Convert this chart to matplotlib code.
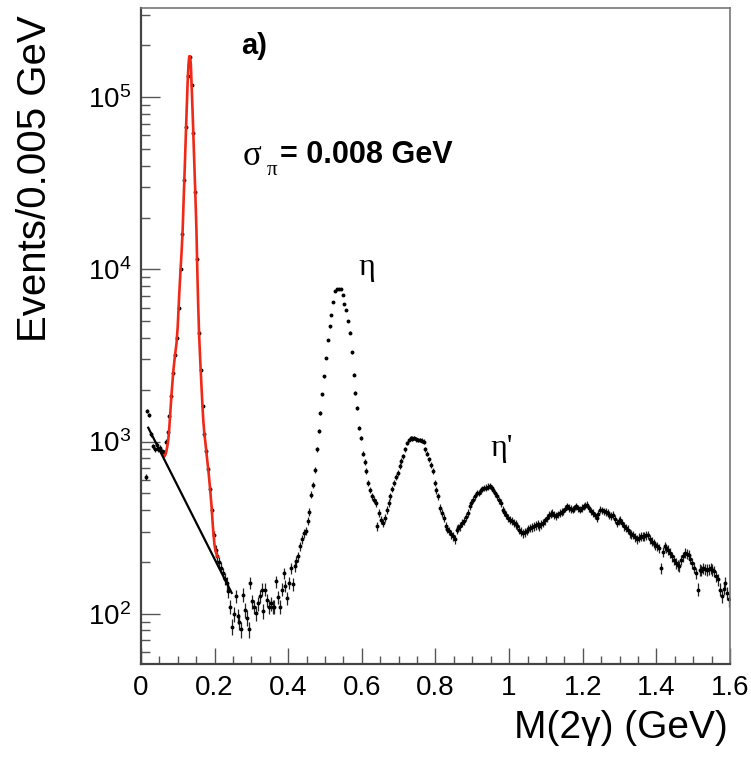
import numpy as np
import matplotlib
matplotlib.use('Agg')
import matplotlib.pyplot as plt
from matplotlib.ticker import LogLocator, NullFormatter, FixedLocator, FixedFormatter, MultipleLocator

plt.rcParams['font.family'] = ['Liberation Sans', 'DejaVu Sans']
plt.rcParams['mathtext.default'] = 'regular'

# histogram: events per 0.005 GeV bin, first filled bin centred at 0.0125 GeV
bin_width = 0.005
first_bin_center = 0.0125
counts = [
    620, 1500, 1420, 1100, 940, 900, 960, 900, 920, 880,
    865, 1000, 1130, 1400, 1850, 2500, 3200, 4000, 6000, 10000,
    16000, 33000, 67000, 133000, 172000, 118000, 62000, 28000, 11500, 4300,
    2600, 1600, 1100, 880, 690, 530, 400, 285, 235, 215,
    200, 185, 172, 160, 150, 135, 110, 84, 100, 126,
    97, 90, 81, 129, 105, 95, 81, 151, 118, 110,
    101, 115, 126, 138, 103, 138, 120, 110, 115, 110,
    110, 154, 125, 110, 138, 172, 145, 123, 151, 184,
    148, 188, 201, 215, 246, 270, 294, 302, 345, 390,
    491, 562, 687, 900, 1150, 1470, 1880, 2390, 3060, 3900,
    4660, 5440, 6500, 7470, 7650, 7710, 7650, 7110, 6320, 5800,
    5000, 4300, 3300, 2450, 1920, 1570, 1200, 1050, 850, 760,
    672, 575, 525, 481, 460, 440, 322, 385, 352, 336,
    360, 400, 440, 481, 530, 575, 620, 658, 720, 770,
    820, 900, 980, 1020, 1050, 1040, 1050, 1030, 1020, 1020,
    1010, 1000, 900, 850, 790, 730, 672, 575, 520, 481,
    411, 385, 360, 322, 310, 302, 290, 282, 270, 308,
    315, 322, 335, 345, 365, 385, 420, 440, 460, 480,
    502, 502, 520, 532, 536, 540, 548, 550, 538, 525,
    500, 481, 455, 440, 402, 390, 376, 362, 352, 345,
    336, 330, 325, 308, 300, 294, 298, 302, 310, 315,
    318, 322, 326, 330, 322, 330, 336, 348, 360, 376,
    380, 385, 376, 368, 378, 385, 390, 393, 408, 420,
    411, 405, 402, 410, 420, 410, 402, 412, 420, 425,
    430, 410, 393, 385, 372, 360, 380, 402, 398, 393,
    390, 385, 375, 368, 376, 355, 336, 345, 352, 336,
    322, 315, 308, 294, 290, 287, 278, 270, 276, 282,
    280, 282, 285, 287, 270, 262, 257, 250, 246, 240,
    184, 228, 246, 240, 235, 225, 215, 205, 197, 192,
    188, 206, 215, 225, 222, 220, 208, 197, 185, 172,
    138, 180, 178, 184, 182, 180, 182, 184, 180, 176,
    165, 158, 138, 126, 140, 151, 132, 121,
]
mass = first_bin_center + bin_width * np.arange(len(counts))
errors = np.sqrt(counts)

# pi0 fit curve (signal + background)
fit_mass = [0.0611, 0.0633, 0.0660, 0.0688, 0.0715, 0.0742, 0.0766, 0.0788, 0.0810, 0.0834,
            0.0878, 0.0924, 0.0965, 0.0997, 0.1041, 0.1073, 0.1106, 0.1133, 0.1160, 0.1188,
            0.1215, 0.1242, 0.1269, 0.1291, 0.1313, 0.1334, 0.1356, 0.1378, 0.1405, 0.1432,
            0.1459, 0.1486, 0.1508, 0.1533, 0.1554, 0.1579, 0.1609, 0.1639, 0.1666, 0.1693,
            0.1720, 0.1753, 0.1793, 0.1834, 0.1875, 0.1916, 0.1943, 0.1970, 0.1997, 0.2024,
            0.2052, 0.2079]
fit_counts = [829, 818, 835, 875, 935, 1027, 1174, 1379, 1619, 1927,
              2553, 3162, 3714, 4601, 7253, 9736, 12895, 17085, 25530, 38140,
              56990, 85150, 123900, 155600, 173200, 173200, 153500, 114300, 79660, 53300,
              35670, 23880, 16630, 9353, 6259, 4190, 2998, 2203, 1685, 1325,
              1128, 974, 807, 669, 540, 425, 347, 288, 252, 232,
              222, 214]

# background under the pi0 peak
bkg_mass = [0.0198, 0.2465]
bkg_counts = [1203, 132]

fig = plt.figure(figsize=(7.51, 7.58), dpi=100)
ax = fig.add_axes([0.1877, 0.124, 0.7843, 0.8654])

ax.errorbar(mass, counts, yerr=errors, xerr=bin_width / 2, fmt='o', ms=1.8,
            mfc='black', mec='black', ecolor='#222222', elinewidth=0.9,
            capsize=0, zorder=2)
ax.plot(fit_mass, fit_counts, color='#f02818', lw=1.9, zorder=3)
ax.plot(bkg_mass, bkg_counts, color='black', lw=1.6, zorder=4)

ax.set_yscale('log')
ax.set_xlim(0, 1.6)
ax.set_ylim(51, 3.3e5)

xticks = [0, 0.2, 0.4, 0.6, 0.8, 1.0, 1.2, 1.4, 1.6]
xlabels = ['0', '0.2', '0.4', '0.6', '0.8', '1', '1.2', '1.4', '1.6']
ax.xaxis.set_major_locator(FixedLocator(xticks))
ax.xaxis.set_major_formatter(FixedFormatter(xlabels))
ax.xaxis.set_minor_locator(MultipleLocator(0.05))
ax.yaxis.set_major_locator(FixedLocator([1e2, 1e3, 1e4, 1e5]))
ax.yaxis.set_major_formatter(FixedFormatter([r'$10^{2}$', r'$10^{3}$', r'$10^{4}$', r'$10^{5}$']))
ax.yaxis.set_minor_locator(LogLocator(base=10, subs=np.arange(2, 10)))
ax.yaxis.set_minor_formatter(NullFormatter())

ax.tick_params(axis='x', which='major', direction='in', length=11.5, width=1,
               color='#555555', labelsize=20, pad=8)
ax.tick_params(axis='x', which='minor', direction='in', length=5.5, width=1, color='#555555')
ax.tick_params(axis='y', which='major', direction='in', length=13.5, width=1,
               color='#555555', labelsize=20, pad=7)
ax.tick_params(axis='y', which='minor', direction='in', length=6.5, width=1, color='#555555')

for side in ['left', 'bottom']:
    ax.spines[side].set_linewidth(1.6)
    ax.spines[side].set_color('#444444')
for side in ['top', 'right']:
    ax.spines[side].set_linewidth(1.2)
    ax.spines[side].set_color('#777777')

ax.text(0.192, 0.942, 'a)', transform=ax.transAxes, fontsize=21, fontweight='bold',
        ha='center', va='center')
ax.text(0.188, 0.774, 'σ', transform=ax.transAxes, fontsize=25, family='Liberation Serif',
        ha='center', va='center')
ax.text(0.2224, 0.752, 'π', transform=ax.transAxes, fontsize=15, family='Liberation Serif',
        ha='center', va='center')
ax.text(0.236, 0.776, '= 0.008 GeV', transform=ax.transAxes, fontsize=22, fontweight='bold',
        ha='left', va='center')
ax.text(0.384, 0.605, 'η', transform=ax.transAxes, fontsize=23, family='Liberation Serif',
        ha='center', va='center')
ax.text(0.613, 0.329, "η'", transform=ax.transAxes, fontsize=23, family='Liberation Serif',
        ha='center', va='center')

fig.text(0.0466, 0.980, 'Events/0.005 GeV', rotation=90, fontsize=29, ha='center', va='top')
fig.text(0.969, 0.040, 'M(2γ) (GeV)', fontsize=28, ha='right', va='center')

fig.savefig('out.png', dpi=100)
